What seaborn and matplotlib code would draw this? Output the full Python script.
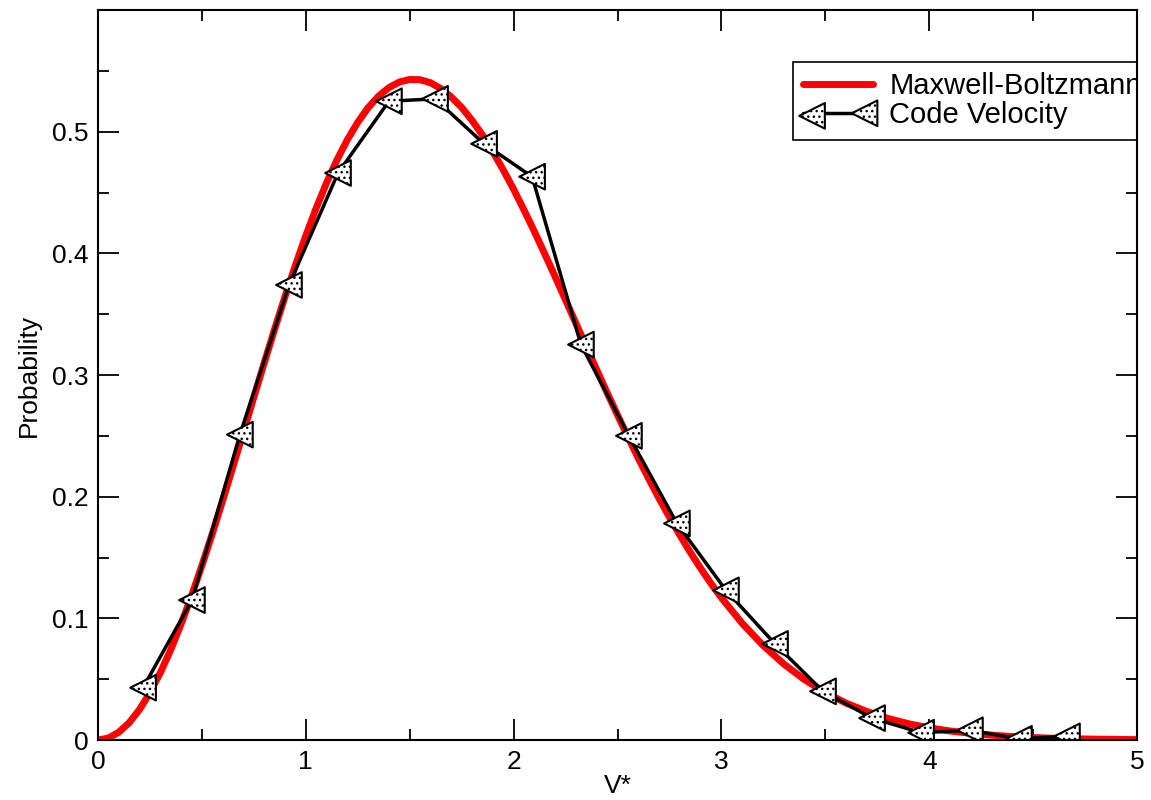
import numpy as np
import pandas as pd
import matplotlib
matplotlib.use("Agg")
import matplotlib.pyplot as plt
import seaborn as sns
from matplotlib.ticker import MultipleLocator, FuncFormatter
from matplotlib.lines import Line2D

# Maxwell-Boltzmann curve
mb_v = [0.0, 0.05, 0.1, 0.15, 0.2, 0.25, 0.3, 0.35, 0.4, 0.45,
        0.5, 0.55, 0.6, 0.65, 0.7, 0.75, 0.8, 0.85, 0.9, 0.95,
        1.0, 1.05, 1.1, 1.15, 1.2, 1.25, 1.3, 1.35, 1.4, 1.45,
        1.5, 1.55, 1.6, 1.65, 1.7, 1.75, 1.8, 1.85, 1.9, 1.95,
        2.0, 2.05, 2.1, 2.15, 2.2, 2.25, 2.3, 2.35, 2.4, 2.45,
        2.5, 2.55, 2.6, 2.65, 2.7, 2.75, 2.8, 2.85, 2.9, 2.95,
        3.0, 3.1, 3.2, 3.3, 3.4, 3.5, 3.6, 3.7, 3.8, 3.9,
        4.0, 4.1, 4.2, 4.3, 4.4, 4.5, 4.6, 4.7, 4.8, 4.9, 5.0]
mb_p = [0.0, 0.0016, 0.0064, 0.0142, 0.0251, 0.0389, 0.0553, 0.0742, 0.0954, 0.1185,
        0.1434, 0.1696, 0.1969, 0.2249, 0.2533, 0.2818, 0.3100, 0.3377, 0.3645, 0.3902,
        0.4145, 0.4372, 0.4580, 0.4768, 0.4934, 0.5077, 0.5197, 0.5292, 0.5362, 0.5408,
        0.5429, 0.5427, 0.5402, 0.5354, 0.5285, 0.5199, 0.5093, 0.4972, 0.4835, 0.4686,
        0.4527, 0.4356, 0.4179, 0.3995, 0.3807, 0.3616, 0.3424, 0.3234, 0.3042, 0.2855,
        0.2671, 0.2491, 0.2316, 0.2148, 0.1986, 0.1831, 0.1684, 0.1543, 0.1411, 0.1286,
        0.1169, 0.0959, 0.0778, 0.0625, 0.0496, 0.0390, 0.0303, 0.0234, 0.0178, 0.0134,
        0.0100, 0.0074, 0.0055, 0.0040, 0.0028, 0.0020, 0.0014, 0.0010, 0.0007, 0.0005, 0.0003]

# Code velocity histogram points
code_v = [0.217, 0.452, 0.683, 0.919, 1.155, 1.400, 1.622, 1.858, 2.089, 2.324,
          2.555, 2.786, 3.022, 3.258, 3.489, 3.725, 3.961, 4.196, 4.432, 4.663]
code_p = [0.043, 0.115, 0.251, 0.374, 0.466, 0.525, 0.527, 0.490, 0.463, 0.325,
          0.250, 0.178, 0.123, 0.079, 0.040, 0.018, 0.006, 0.008, 0.001, 0.003]

x_ticks = [0, 1, 2, 3, 4, 5]
y_ticks = [0, 0.1, 0.2, 0.3, 0.4, 0.5]
legend_labels = ["Maxwell-Boltzmann", "Code Velocity"]

sns.set_style("ticks")
plt.rcParams['font.family'] = ['Liberation Sans', 'DejaVu Sans']
plt.rcParams['hatch.linewidth'] = 1.0
plt.rcParams['text.color'] = 'black'
plt.rcParams['axes.labelcolor'] = 'black'

mb_df = pd.DataFrame({"v": mb_v, "p": mb_p})
code_df = pd.DataFrame({"v": code_v, "p": code_p})

fig = plt.figure(figsize=(11.51, 8.0), dpi=100)
ax = fig.add_axes([98 / 1151, 1 - 740 / 800, (1137 - 98) / 1151, (740 - 10) / 800])

sns.lineplot(data=mb_df, x="v", y="p", ax=ax, color="#ff0000", linewidth=5,
             sort=False, label="_nolegend_", zorder=2, solid_joinstyle="round",
             solid_capstyle="round")
sns.lineplot(data=code_df, x="v", y="p", ax=ax, color="black", linewidth=2.5,
             sort=False, label="_nolegend_", zorder=3)
sc = ax.scatter(code_df["v"], code_df["p"], marker="<", s=340, facecolor="white",
                edgecolor="black", linewidths=1.5, hatch="...", zorder=4)

ax.set_xlim(0, 5)
ax.set_ylim(0, 0.6)
ax.set_xticks(x_ticks)
ax.set_yticks(y_ticks)
ax.xaxis.set_minor_locator(MultipleLocator(0.5))
ax.yaxis.set_minor_locator(MultipleLocator(0.05))
ax.xaxis.set_major_formatter(FuncFormatter(lambda v, p: "%d" % round(v)))
ax.yaxis.set_major_formatter(FuncFormatter(lambda v, p: "0" if abs(v) < 1e-9 else "%.1f" % v))

ax.tick_params(which="both", direction="in", top=True, right=True, colors="black",
               width=1.3, labelsize=19)
ax.tick_params(which="major", length=15, pad=7)
ax.tick_params(which="minor", length=8)
for s in ax.spines.values():
    s.set_linewidth(1.5)
    s.set_color("black")
    s.set_zorder(6)

ax.set_xlabel("V*", fontsize=19, labelpad=0)
ax.set_ylabel("Probability", fontsize=19, labelpad=8)

red_h = Line2D([], [], color="#ff0000", linewidth=5)
blk_h = Line2D([], [], color="black", linewidth=2.5)
leg = ax.legend(handles=[red_h, (blk_h, sc)], labels=legend_labels,
                loc="upper left", bbox_to_anchor=(0.669, 0.929), fontsize=21,
                scatterpoints=2, frameon=True, fancybox=False, framealpha=1.0,
                handlelength=2.4, handletextpad=0.55, borderpad=0.35,
                labelspacing=0.05, borderaxespad=0)
leg.get_frame().set_edgecolor("black")
leg.get_frame().set_facecolor("white")
leg.get_frame().set_linewidth(1.2)
leg.get_frame().set_clip_box(ax.bbox)
leg.get_frame().set_clip_on(True)
for t in leg.get_texts():
    t.set_clip_box(ax.bbox)
    t.set_clip_on(True)
leg.set_zorder(5)

fig.savefig("out.png", dpi=100)
